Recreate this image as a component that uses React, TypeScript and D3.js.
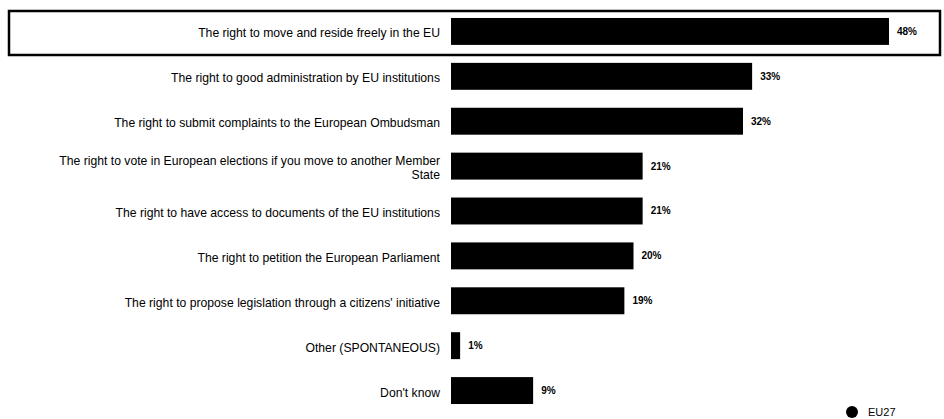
import { useEffect, useRef } from "react";
import * as d3 from "d3";

const categories: string[] = [
  "The right to move and reside freely in the EU",
  "The right to good administration by EU institutions",
  "The right to submit complaints to the European Ombudsman",
  "The right to vote in European elections if you move to another Member|State",
  "The right to have access to documents of the EU institutions",
  "The right to petition the European Parliament",
  "The right to propose legislation through a citizens' initiative",
  "Other (SPONTANEOUS)",
  "Don't know",
];

const values: number[] = [48, 33, 32, 21, 21, 20, 19, 1, 9];

const seriesName = "EU27";

const width = 944;
const height = 419;

export default function App() {
  const svgRef = useRef<SVGSVGElement>(null);

  useEffect(() => {
    if (!svgRef.current) return;
    const svg = d3.select(svgRef.current);
    svg.selectAll("*").remove();

    const barLeft = 451;

    const y = d3
      .scaleBand<string>()
      .domain(categories)
      .range([9, 413])
      .paddingInner(0.4)
      .paddingOuter(0.2);

    const x = d3.scaleLinear().domain([0, 48]).range([barLeft, 889]);

    // highlight frame around the first row
    svg
      .append("rect")
      .attr("x", 9)
      .attr("y", 11)
      .attr("width", 931)
      .attr("height", 44)
      .attr("fill", "none")
      .attr("stroke", "#000")
      .attr("stroke-width", 2.5);

    const rows = svg
      .append("g")
      .selectAll("g")
      .data(categories)
      .join("g")
      .attr("transform", (d) => `translate(0,${y(d)})`);

    rows
      .append("rect")
      .attr("x", barLeft)
      .attr("height", y.bandwidth())
      .attr("width", (_, i) => x(values[i]) - barLeft)
      .attr("fill", "#000");

    // category labels, right aligned, "|" splits lines
    const lineHeight = 14;
    rows.each(function (d) {
      const lines = d.split("|");
      const t = d3
        .select(this)
        .append("text")
        .attr("text-anchor", "end")
        .attr("font-family", "Liberation Sans, Arial, sans-serif")
        .attr("font-size", 12.2)
        .attr("fill", "#000");
      const bh = y.bandwidth();
      const startY = bh / 2 - ((lines.length - 1) * lineHeight) / 2 + 6;
      lines.forEach((line, k) => {
        t.append("tspan")
          .attr("x", 440)
          .attr("y", startY + k * lineHeight)
          .text(line);
      });
    });

    // value labels
    rows
      .append("text")
      .attr("x", (_, i) => x(values[i]) + 8)
      .attr("y", y.bandwidth() / 2 + 3.5)
      .attr("font-family", "Liberation Sans, Arial, sans-serif")
      .attr("font-size", 10)
      .attr("font-weight", "bold")
      .attr("fill", "#000")
      .text((_, i) => `${values[i]}%`);

    // legend
    const legend = svg.append("g").attr("transform", "translate(852,412)");
    legend.append("circle").attr("r", 6).attr("fill", "#000");
    legend
      .append("text")
      .attr("x", 16)
      .attr("y", 4)
      .attr("font-family", "Liberation Sans, Arial, sans-serif")
      .attr("font-size", 11)
      .attr("fill", "#000")
      .text(seriesName);
  }, []);

  return (
    <svg
      ref={svgRef}
      width={width}
      height={height}
      style={{ position: "absolute", left: 0, top: 0, background: "#fff" }}
    />
  );
}
